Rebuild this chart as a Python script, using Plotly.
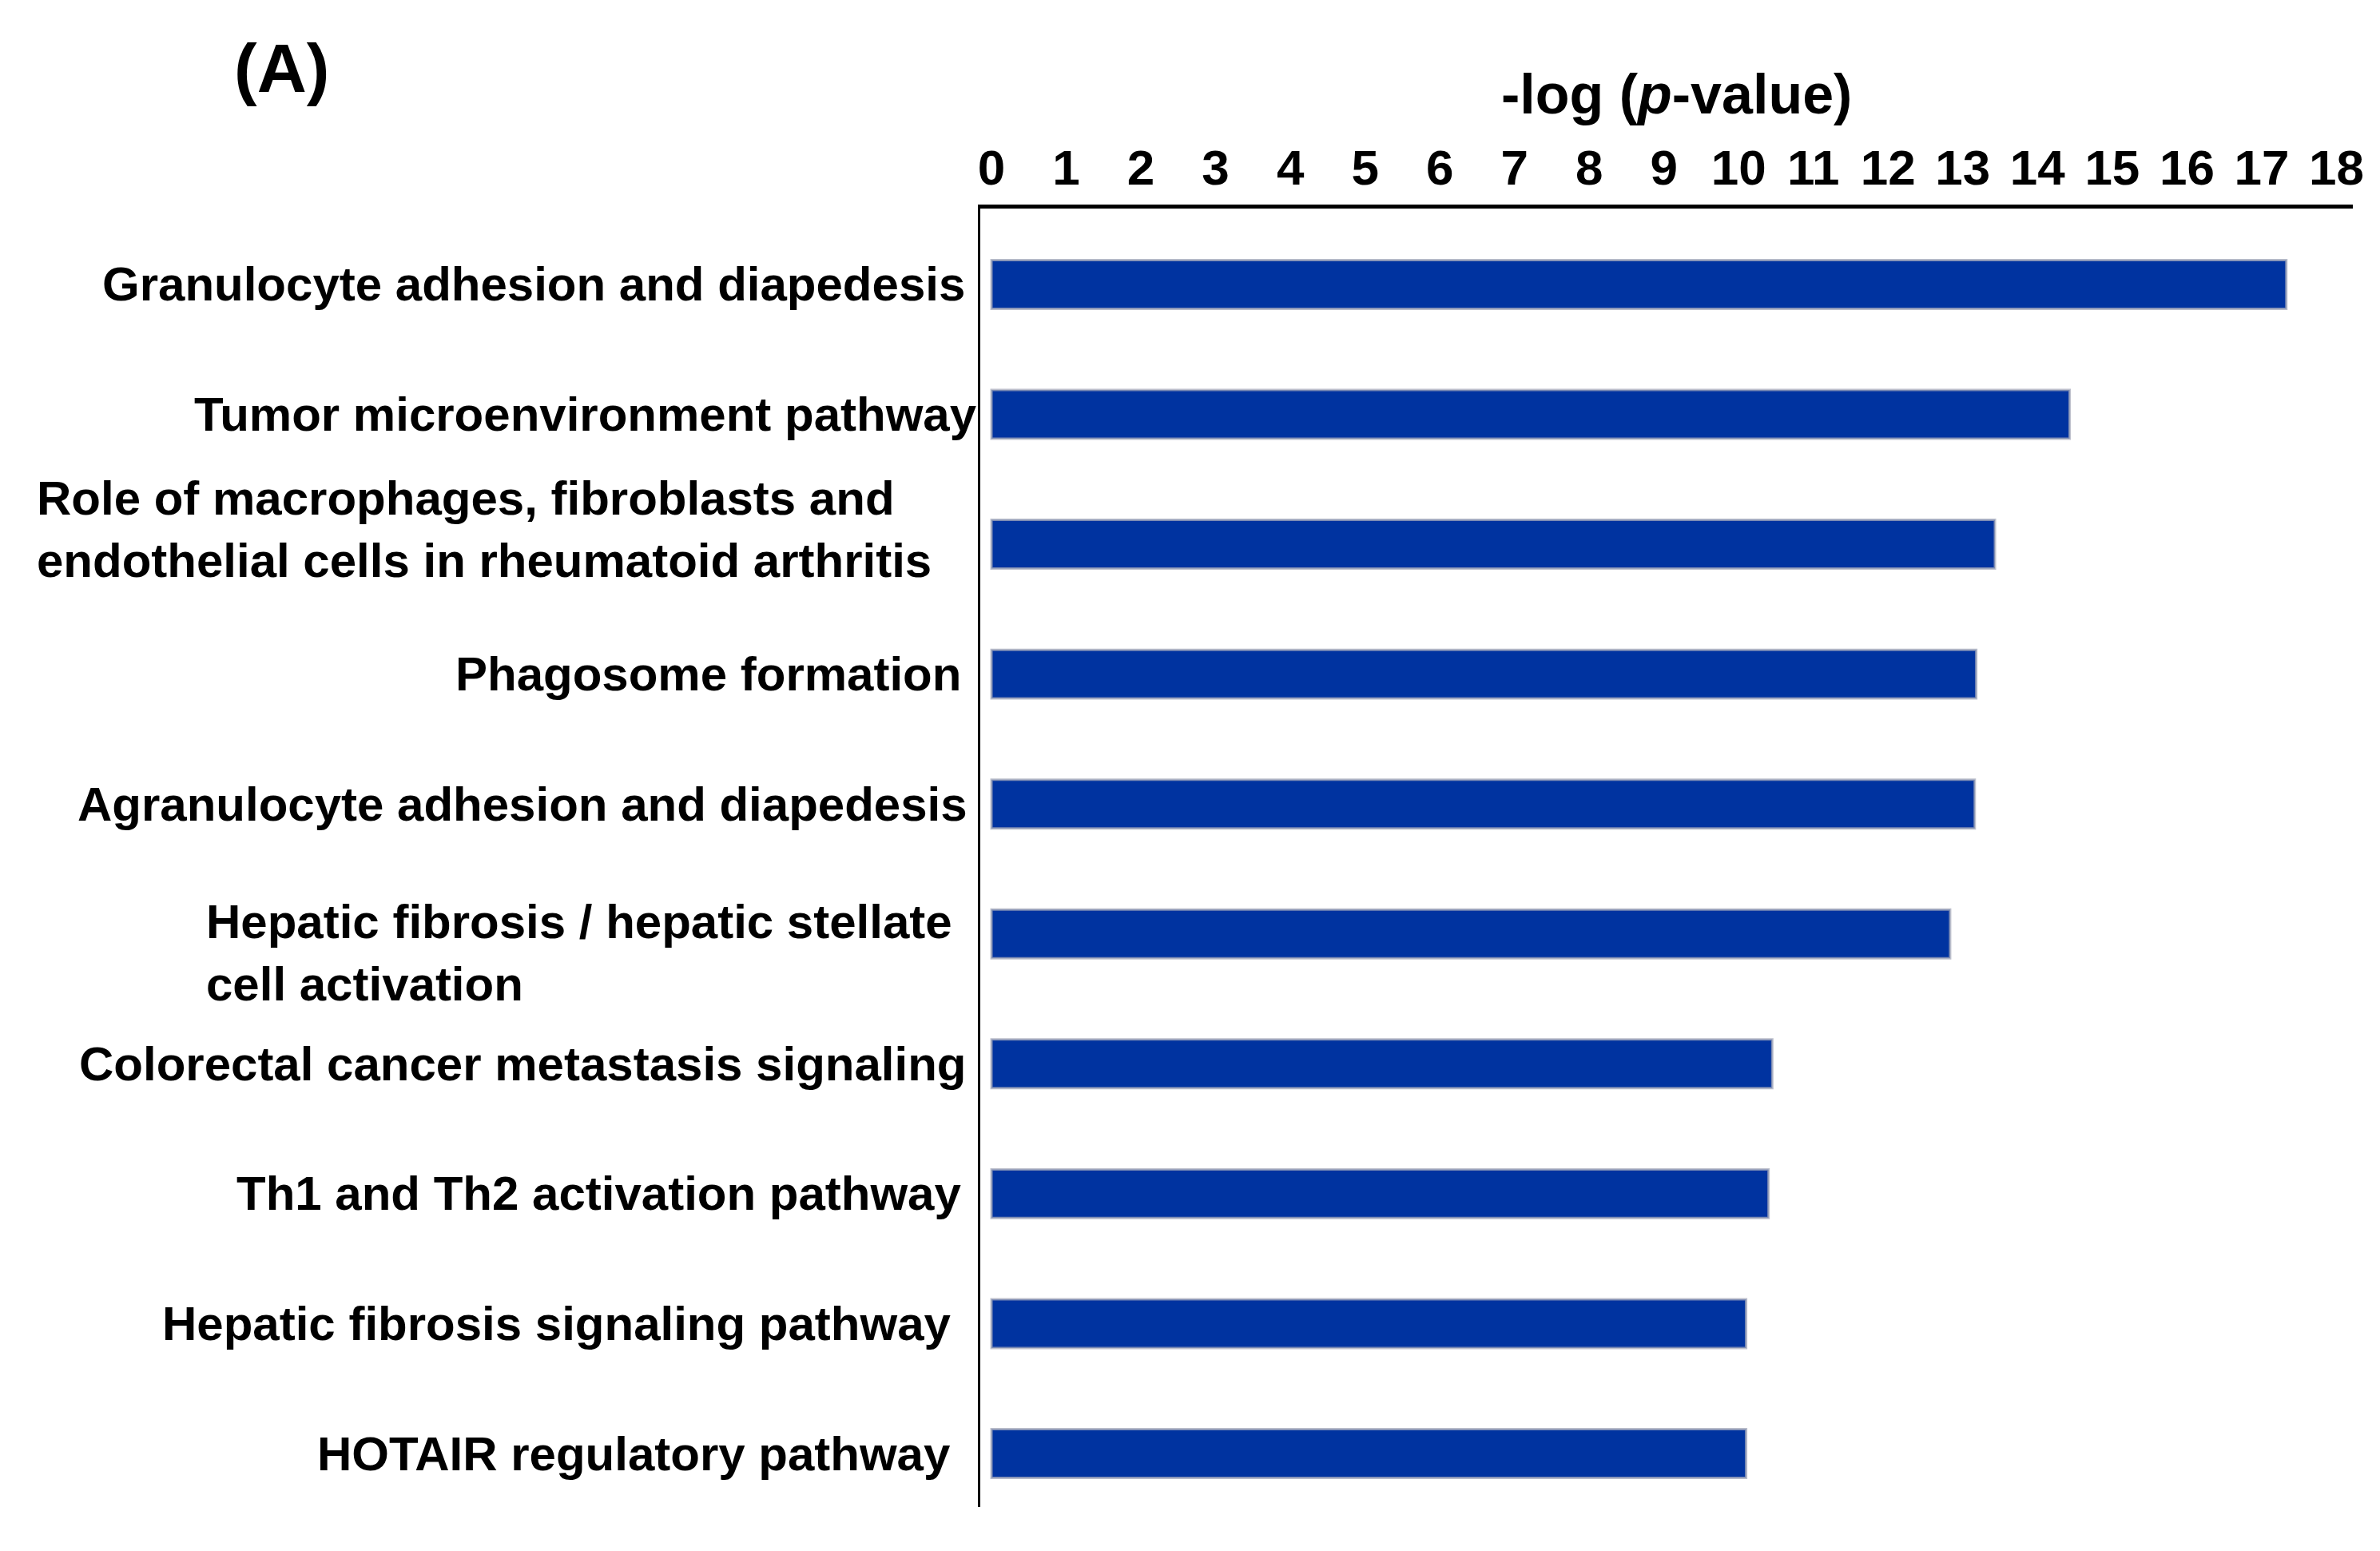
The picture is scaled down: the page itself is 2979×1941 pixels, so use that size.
import plotly.graph_objects as go

# ---- data ----
categories = [
    "Granulocyte adhesion and diapedesis",
    "Tumor microenvironment pathway",
    "Role of macrophages, fibroblasts and<br>endothelial cells in rheumatoid arthritis",
    "Phagosome formation",
    "Agranulocyte adhesion and diapedesis",
    "Hepatic fibrosis / hepatic stellate<br>cell activation",
    "Colorectal cancer metastasis signaling",
    "Th1 and Th2 activation pathway",
    "Hepatic fibrosis signaling pathway",
    "HOTAIR regulatory pathway",
]
neg_log_p = [17.33, 14.43, 13.43, 13.18, 13.16, 12.83, 10.45, 10.40, 10.10, 10.10]
tick_values = list(range(0, 19))
tick_labels = [str(v) for v in tick_values]
axis_title = "-log (<i>p</i>-value)"
panel_label = "(A)"

# ---- style ----
PAGE_W, PAGE_H = 2979, 1941
BODY = 8  # default page body margin
W, H = PAGE_W - 2 * BODY, PAGE_H - 2 * BODY
# plot area in page pixels
PL, PR, PT, PB = 1227, 2948, 261, 1886
M_L, M_T = PL - BODY, PT - BODY
M_R, M_B = W - (PR - BODY), H - (PB - BODY)
FONT = "Liberation Sans, Arial, Helvetica, sans-serif"
BAR_COLOR = "#0033A0"
label_right_px = [1210, 1225, 1168, 1205, 1213, 1194, 1211, 1205, 1192, 1192]
label_yshift = [0, 0, 19, 0, 0, -24, 0, 0, 0, 0]

fig = go.Figure(
    go.Bar(
        x=neg_log_p,
        y=categories,
        orientation="h",
        width=0.375,
        marker=dict(color=BAR_COLOR, line=dict(color="rgba(165,170,185,0.75)", width=3)),
        hoverinfo="x+y",
    )
)

annotations = []
for cat, rx, ys in zip(categories, label_right_px, label_yshift):
    annotations.append(
        dict(
            text=cat,
            x=0, xref="paper", xanchor="right", xshift=rx - PL,
            y=cat, yref="y", yanchor="middle", yshift=ys,
            showarrow=False,
            align="left" if "<br>" in cat else "right",
            font=dict(family=FONT, size=60, color="black", weight="bold"),
        )
    )

annotations.append(
    dict(
        text=axis_title, x=0.5, xref="paper", xanchor="center", xshift=12,
        y=1, yref="paper", yanchor="middle", yshift=PT - 118,
        showarrow=False,
        font=dict(family=FONT, size=70, color="black", weight="bold"),
    )
)
annotations.append(
    dict(
        text=panel_label, x=0, xref="paper", xanchor="center", xshift=352 - PL,
        y=1, yref="paper", yanchor="middle", yshift=PT - 85,
        showarrow=False,
        font=dict(family=FONT, size=86, color="black", weight="bold"),
    )
)

fig.update_layout(
    width=W, height=H, autosize=False,
    margin=dict(l=M_L, r=M_R, t=M_T, b=M_B, pad=0),
    paper_bgcolor="white", plot_bgcolor="white",
    showlegend=False,
    annotations=annotations,
    xaxis=dict(
        side="top",
        range=[-0.15, 18.22],
        tickmode="array", tickvals=tick_values, ticktext=tick_labels,
        showgrid=False, zeroline=False,
        showline=True, linecolor="black", linewidth=5,
        ticks="", ticklabelstandoff=0,
        tickfont=dict(family=FONT, size=62, color="black", weight="bold"),
    ),
    yaxis=dict(
        range=[9.412, -0.584],
        showticklabels=False, showgrid=False, zeroline=False,
        showline=True, linecolor="black", linewidth=3, ticks="",
    ),
)

fig.write_html("out.html")
